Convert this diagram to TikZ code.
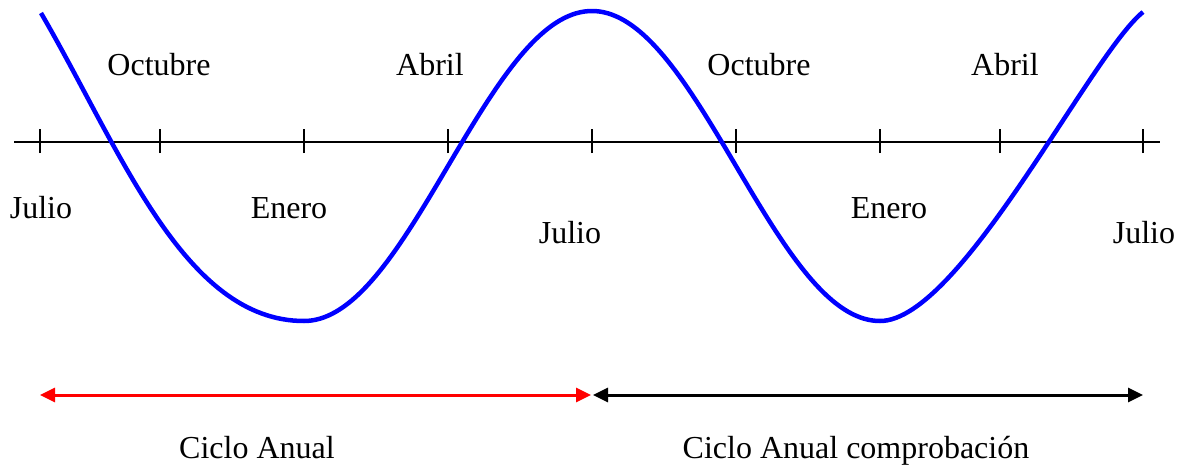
\documentclass[tikz,border=0pt]{standalone}
\usepackage{fontspec}
\setmainfont{Liberation Serif}
\usetikzlibrary{arrows.meta}
\tikzset{
  lbl/.style={anchor=base, inner sep=0pt, font=\fontsize{32}{38}\selectfont},
  axisline/.style={line width=2pt, black},
  tick/.style={line width=2pt, black},
  wave/.style={line width=4.5pt, blue, line join=round},
  span/.style={line width=3pt, {Triangle[length=15pt,width=14pt]}-{Triangle[length=15pt,width=14pt]}}
}
\begin{document}
\begin{tikzpicture}[x=1pt,y=-1pt]
\useasboundingbox (0,0) rectangle (1186,466);
% axis
\coordinate (axL) at (14,142);
\coordinate (axR) at (1160,142);
\draw[axisline] (axL) -- (axR);
% ticks
\foreach \x [count=\i] in {40,160,304,448,592,736,880,1000,1143}{
  \coordinate (t\i) at (\x,142);
  \draw[tick] ([yshift=-11pt]t\i) -- ([yshift=13pt]t\i);
}
% wave
\coordinate (w0) at (41,13);
\coordinate (w1) at (304,321);
\coordinate (w2) at (880,321);
\coordinate (w3) at (1143,12);
\draw[wave] (w0) .. controls (121,150.6) and (184,321) .. (w1)
  -- plot[domain=-288:288, samples=145] ({592+\x}, {166-155*cos(0.625*\x)})
  .. controls (960,321) and (1090,55) .. (w3);
% month labels
\node[lbl] (oct1) at (159,75) {Octubre};
\node[lbl] (abr1) at (430,75) {Abril};
\node[lbl] (oct2) at (759,75) {Octubre};
\node[lbl] (abr2) at (1005,75) {Abril};
\node[lbl] (jul1) at (41,218) {Julio};
\node[lbl] (ene1) at (289,218) {Enero};
\node[lbl] (jul2) at (570,243) {Julio};
\node[lbl] (ene2) at (889,218) {Enero};
\node[lbl] (jul3) at (1144,243) {Julio};
% cycle arrows
\coordinate (rA) at (40,395);
\coordinate (rB) at (591,395);
\coordinate (bA) at (593,395);
\coordinate (bB) at (1143,395);
\draw[span, red] (rA) -- (rB);
\draw[span, black] (bA) -- (bB);
\node[lbl] (c1) at (257,458) {Ciclo Anual};
\node[lbl] (c2) at (856,458) {Ciclo Anual comprobación};
\end{tikzpicture}
\end{document}
